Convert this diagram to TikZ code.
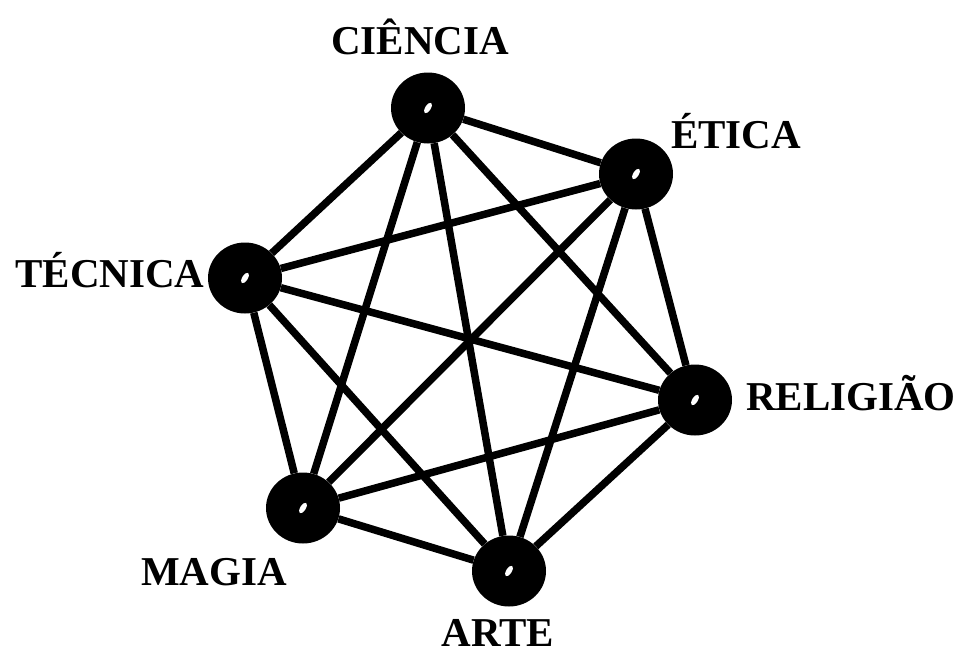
\documentclass[tikz,border=0pt]{standalone}
\usepackage{fontspec}
\setmainfont{Liberation Serif}
\usepackage{tikz}
\usetikzlibrary{shapes.geometric}
\tikzset{
  vtx/.style={ellipse,fill=black,draw=none,minimum width=74pt,minimum height=71pt,inner sep=0pt},
  hole/.style={ellipse,fill=white,draw=none,minimum width=12pt,minimum height=5.5pt,inner sep=0pt,rotate=58},
  lnk/.style={line width=7.5pt,color=black},
  lbl/.style={anchor=base,inner sep=0pt,font=\fontsize{41}{41}\selectfont\bfseries},
}

\begin{document}
\begin{tikzpicture}[x=1pt,y=-1pt]
  \useasboundingbox (0,0) rectangle (961,653);
  % vertices
  \node[vtx] (cien) at (428,108) {};
  \node[vtx] (etic) at (636,174) {};
  \node[vtx] (tecn) at (245,278) {};
  \node[vtx] (reli) at (695,400) {};
  \node[vtx] (magi) at (303,508) {};
  \node[vtx] (arte) at (509,571) {};
  % every pair is linked
  \draw[lnk] (cien) -- (etic) (cien) -- (tecn) (cien) -- (reli) (cien) -- (magi) (cien) -- (arte);
  \draw[lnk] (etic) -- (tecn) (etic) -- (reli) (etic) -- (magi) (etic) -- (arte);
  \draw[lnk] (tecn) -- (reli) (tecn) -- (magi) (tecn) -- (arte);
  \draw[lnk] (reli) -- (magi) (reli) -- (arte);
  \draw[lnk] (magi) -- (arte);
  % small white marks
  \node[hole] (hCien) at (cien) {};
  \node[hole] (hEtic) at (etic) {};
  \node[hole] (hTecn) at (tecn) {};
  \node[hole] (hReli) at (reli) {};
  \node[hole] (hMagi) at (magi) {};
  \node[hole] (hArte) at (arte) {};
  % labels
  \node[lbl] (lCien) at (420,54) {CIÊNCIA};
  \node[lbl] (lEtic) at (736,148) {ÉTICA};
  \node[lbl] (lTecn) at (110,287) {TÉCNICA};
  \node[lbl] (lReli) at (851,410) {RELIGIÃO};
  \node[lbl] (lMagi) at (214,585) {MAGIA};
  \node[lbl] (lArte) at (498,646) {ARTE};
\end{tikzpicture}
\end{document}
